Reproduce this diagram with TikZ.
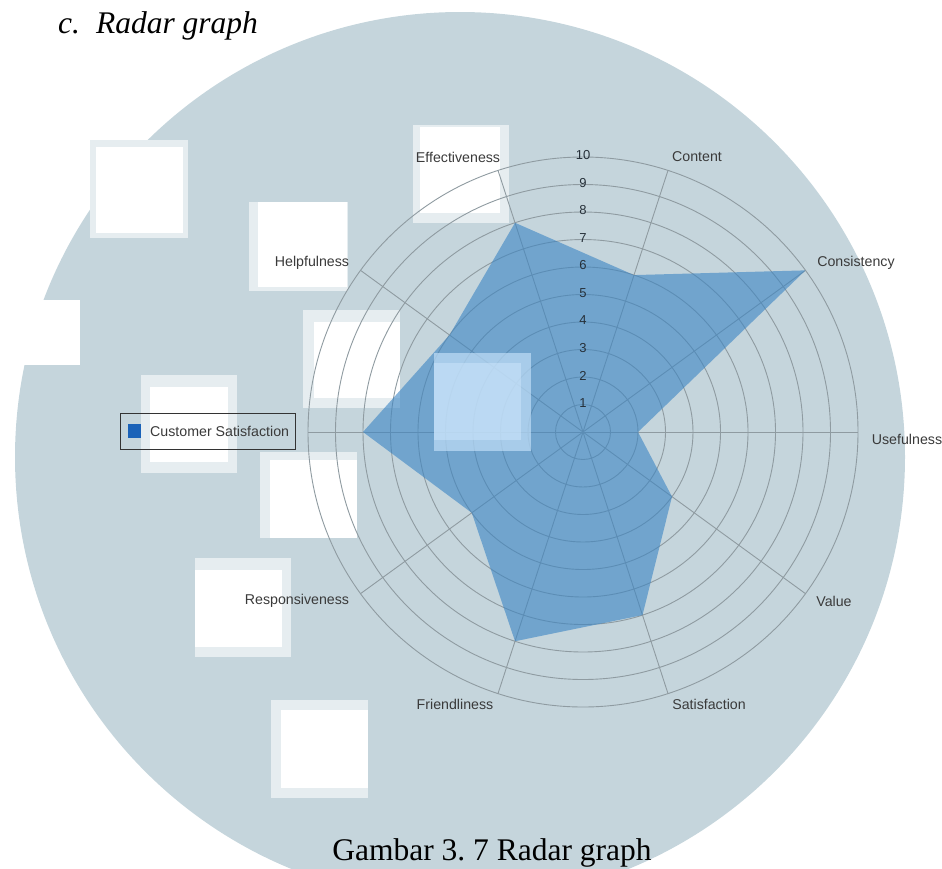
\documentclass[tikz,border=0pt]{standalone}
\usepackage{fontspec}
\setmainfont{Liberation Serif}
\setsansfont{Liberation Sans}
\usetikzlibrary{calc}

\definecolor{blob}{HTML}{C5D5DC}
\definecolor{haze}{HTML}{E6EDF0}
\definecolor{gridc}{HTML}{8F9BA1}
\definecolor{area}{HTML}{3A84C3}
\definecolor{patchblue}{HTML}{C6E2FA}
\definecolor{patchlight}{HTML}{D3EAFF}
\definecolor{legendblue}{HTML}{1A62B8}
\definecolor{labelc}{HTML}{3A3A3A}
\definecolor{tickc}{HTML}{263039}

\begin{document}
\frenchspacing
\begin{tikzpicture}[x=1pt,y=-1pt,
  gridline/.style={draw=gridc,line width=0.9pt},
  axislabel/.style={font=\sffamily\fontsize{14.2}{16}\selectfont,text=labelc,inner sep=0pt},
  ticklabel/.style={font=\sffamily\fontsize{13}{14}\selectfont,text=tickc,inner sep=0pt},
  datafill/.style={fill=area,fill opacity=0.6},
  legendframe/.style={draw=black!80,line width=0.9pt},
]
\useasboundingbox (0,0) rectangle (942,868);

% light backdrop disc
\begin{scope}
  \clip (0,0) rectangle (942,868);
  \fill[blob] (460,457) circle[radius=445pt];
\end{scope}

% pale patches on the backdrop
\foreach \a/\b/\c/\d/\e/\f/\g/\h in {
  90/140/188/238/96/147/183/233,
  413/125/509/223/420/127/500/213,
  249/202/348/291/258/202/347/287,
  303/310/400/408/314/322/400/398,
  141/375/237/473/150/387/228/462,
  260/452/357/538/270/460/357/538,
  195/558/291/657/195/570/282/647,
  271/700/368/798/281/710/368/788}{
  \fill[haze] (\a,\b) rectangle (\c,\d);
  \fill[white] (\e,\f) rectangle (\g,\h);
}
\fill[white] (0,300) rectangle (80,365);

% radar grid
\coordinate (C) at (583,432);
\foreach \k in {1,...,10}{
  \draw[gridline] (C) circle[radius=\k*27.5pt];
}
\foreach \i in {0,...,9}{
  \coordinate (ax\i) at ($(C)+(\i*36:275pt)$);
  \draw[gridline] (C) -- (ax\i);
}

% data polygon
\foreach \i/\v in {0/2,1/10,2/6,3/8,4/6,5/8,6/5,7/8,8/7,9/4}{
  \coordinate (p\i) at ($(C)+(\i*36:\v*27.5pt)$);
}
\fill[datafill] (p0) -- (p1) -- (p2) -- (p3) -- (p4) -- (p5) -- (p6) -- (p7) -- (p8) -- (p9) -- cycle;

% pale patch over the data area
\fill[patchblue,fill opacity=0.65] (434,353) rectangle (531,451);
\fill[patchlight,fill opacity=0.45] (434,363) rectangle (521,440);

% ring values
\foreach \k in {1,...,10}{
  \node[ticklabel] (t\k) at (583,{432-27.5*\k-1.5}) {\k};
}

% axis labels
\node[axislabel] (lUse) at (907,439) {Usefulness};
\node[axislabel] (lCons) at (856,263) {Consistency};
\node[axislabel] (lCont) at (697,157) {Content};
\node[axislabel] (lEff) at (458,157) {Effectiveness};
\node[axislabel] (lHelp) at (312,263) {Helpfulness};
\node[axislabel] (lResp) at (297,601) {Responsiveness};
\node[axislabel] (lFri) at (455,704) {Friendliness};
\node[axislabel] (lSat) at (709,704) {Satisfaction};
\node[axislabel] (lVal) at (834,601) {Value};

% legend
\draw[legendframe] (120,413) rectangle (295,449);
\fill[legendblue] (128,424) rectangle (141,438);
\node[axislabel,anchor=west] (leg) at (150,431) {Customer Satisfaction};

% heading and caption
\node[anchor=base west,inner sep=0pt,font=\itshape\fontsize{31.5}{36}\selectfont] (title) at (58,33) {c.\hspace{16pt}Radar graph};
\node[anchor=base,inner sep=0pt,font=\fontsize{31.5}{36}\selectfont] (caption) at (492,860) {Gambar 3. 7 Radar graph};
\end{tikzpicture}
\end{document}
